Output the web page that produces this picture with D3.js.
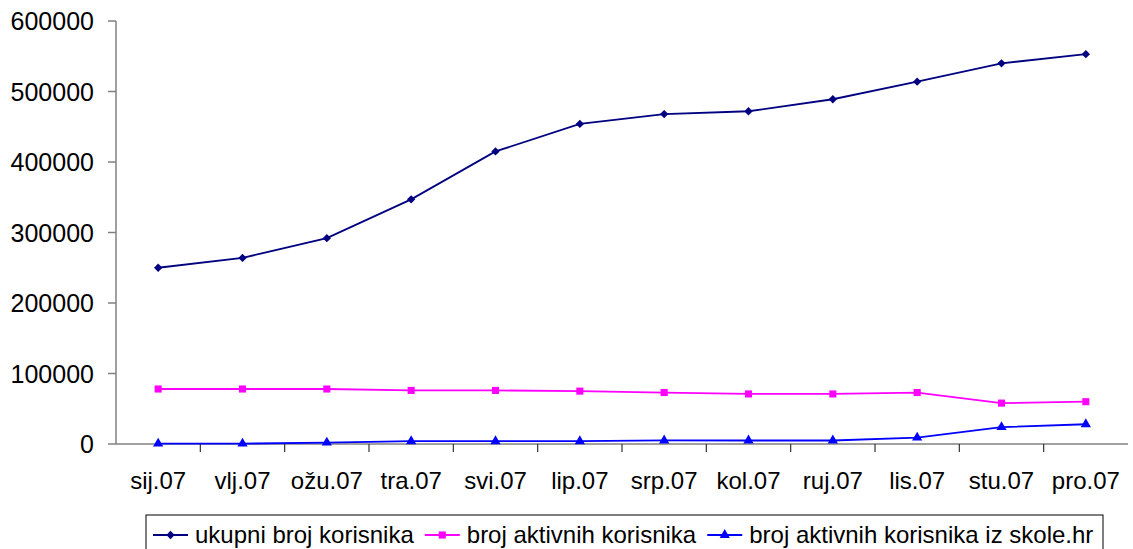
<!DOCTYPE html>
<html>
<head>
<meta charset="utf-8">
<script src="https://cdn.jsdelivr.net/npm/d3@7"></script>
<style>
  html, body { margin: 0; padding: 0; background: #fff; }
  svg { display: block; font-family: "Liberation Sans", Arial, sans-serif; }
</style>
</head>
<body>
<div id="chart"></div>
<script>
// Months (Croatian abbreviations, 2007)
const months = ['sij.07', 'vlj.07', 'ožu.07', 'tra.07', 'svi.07', 'lip.07',
  'srp.07', 'kol.07', 'ruj.07', 'lis.07', 'stu.07', 'pro.07'];

// Series values
const ukupni = [250000, 264000, 292000, 347000, 415000, 454000,
  468000, 472000, 489000, 514000, 540000, 553000];
const aktivni = [78000, 78000, 78000, 76000, 76000, 75000,
  73000, 71000, 71000, 73000, 58000, 60000];
const skole = [500, 500, 2000, 4000, 4000, 4000,
  5000, 5000, 5000, 9000, 24000, 28000];

const yTicks = [0, 100000, 200000, 300000, 400000, 500000, 600000];

const series = [
  { name: 'ukupni broj korisnika', values: ukupni, color: '#000080', marker: 'diamond' },
  { name: 'broj aktivnih korisnika', values: aktivni, color: '#FF00FF', marker: 'square' },
  { name: 'broj aktivnih korisnika iz skole.hr', values: skole, color: '#0000FF', marker: 'triangle' },
];

const width = 1133, height = 549;
const plot = { left: 116, right: 1128, top: 21, bottom: 444 };

const svg = d3.select('#chart').append('svg')
  .attr('width', width).attr('height', height);

const x = d3.scaleBand().domain(months).range([plot.left, plot.right]).padding(0);
const y = d3.scaleLinear().domain([0, 600000]).range([plot.bottom, plot.top]);
const cx = d => x(d) + x.bandwidth() / 2;

const axisColor = '#808080';

// Y axis
svg.append('line')
  .attr('x1', plot.left).attr('x2', plot.left)
  .attr('y1', y(600000)).attr('y2', y(0))
  .attr('stroke', axisColor).attr('stroke-width', 1.5);

yTicks.forEach(t => {
  svg.append('line')
    .attr('x1', plot.left - 8).attr('x2', plot.left)
    .attr('y1', y(t)).attr('y2', y(t))
    .attr('stroke', axisColor).attr('stroke-width', 1.5);
  svg.append('text')
    .attr('x', 94).attr('y', y(t))
    .attr('dy', '0.36em')
    .attr('text-anchor', 'end')
    .attr('font-size', '25px')
    .attr('fill', '#000')
    .text(t);
});

// X axis
svg.append('line')
  .attr('x1', plot.left).attr('x2', plot.right)
  .attr('y1', y(0)).attr('y2', y(0))
  .attr('stroke', axisColor).attr('stroke-width', 1.5);

months.forEach((m, i) => {
  const bx = x(m);
  if (i > 0) {
    svg.append('line')
      .attr('x1', bx).attr('x2', bx)
      .attr('y1', y(0)).attr('y2', y(0) + 8)
      .attr('stroke', '#333').attr('stroke-width', 1.2);
  }
  svg.append('text')
    .attr('x', cx(m)).attr('y', 489)
    .attr('text-anchor', 'middle')
    .attr('font-size', '24px')
    .attr('fill', '#000')
    .text(m);
});

// Marker shapes
const symbolFor = {
  diamond: d3.symbol().type(d3.symbolSquare2).size(44),
  square: d3.symbol().type(d3.symbolSquare2).size(64),
  triangle: d3.symbol().type(d3.symbolTriangle2).size(75),
};

function drawMarker(sel, s, px, py) {
  sel.append('path')
    .attr('d', symbolFor[s.marker]())
    .attr('transform', `translate(${px},${py})${s.marker === 'diamond' ? ' rotate(45)' : ''}`)
    .attr('fill', s.color);
}

const line = d3.line().x((d, i) => cx(months[i])).y(d => y(d));

series.forEach(s => {
  svg.append('path')
    .datum(s.values)
    .attr('d', line)
    .attr('fill', 'none')
    .attr('stroke', s.color)
    .attr('stroke-width', 1.8);
  s.values.forEach((v, i) => drawMarker(svg, s, cx(months[i]), y(v)));
});

// Legend
const legend = svg.append('g');
legend.append('rect')
  .attr('x', 146).attr('y', 515)
  .attr('width', 957).attr('height', 40)
  .attr('fill', '#fff').attr('stroke', '#000').attr('stroke-width', 1);

let lx = 153;
series.forEach(s => {
  legend.append('line')
    .attr('x1', lx).attr('x2', lx + 35)
    .attr('y1', 535).attr('y2', 535)
    .attr('stroke', s.color).attr('stroke-width', 1.8);
  drawMarker(legend, s, lx + 17.5, 535);
  const t = legend.append('text')
    .attr('x', lx + 42).attr('y', 543)
    .attr('font-size', '24px')
    .attr('fill', '#000')
    .text(s.name);
  lx += 42 + t.node().getComputedTextLength() + 11;
});
</script>
</body>
</html>
